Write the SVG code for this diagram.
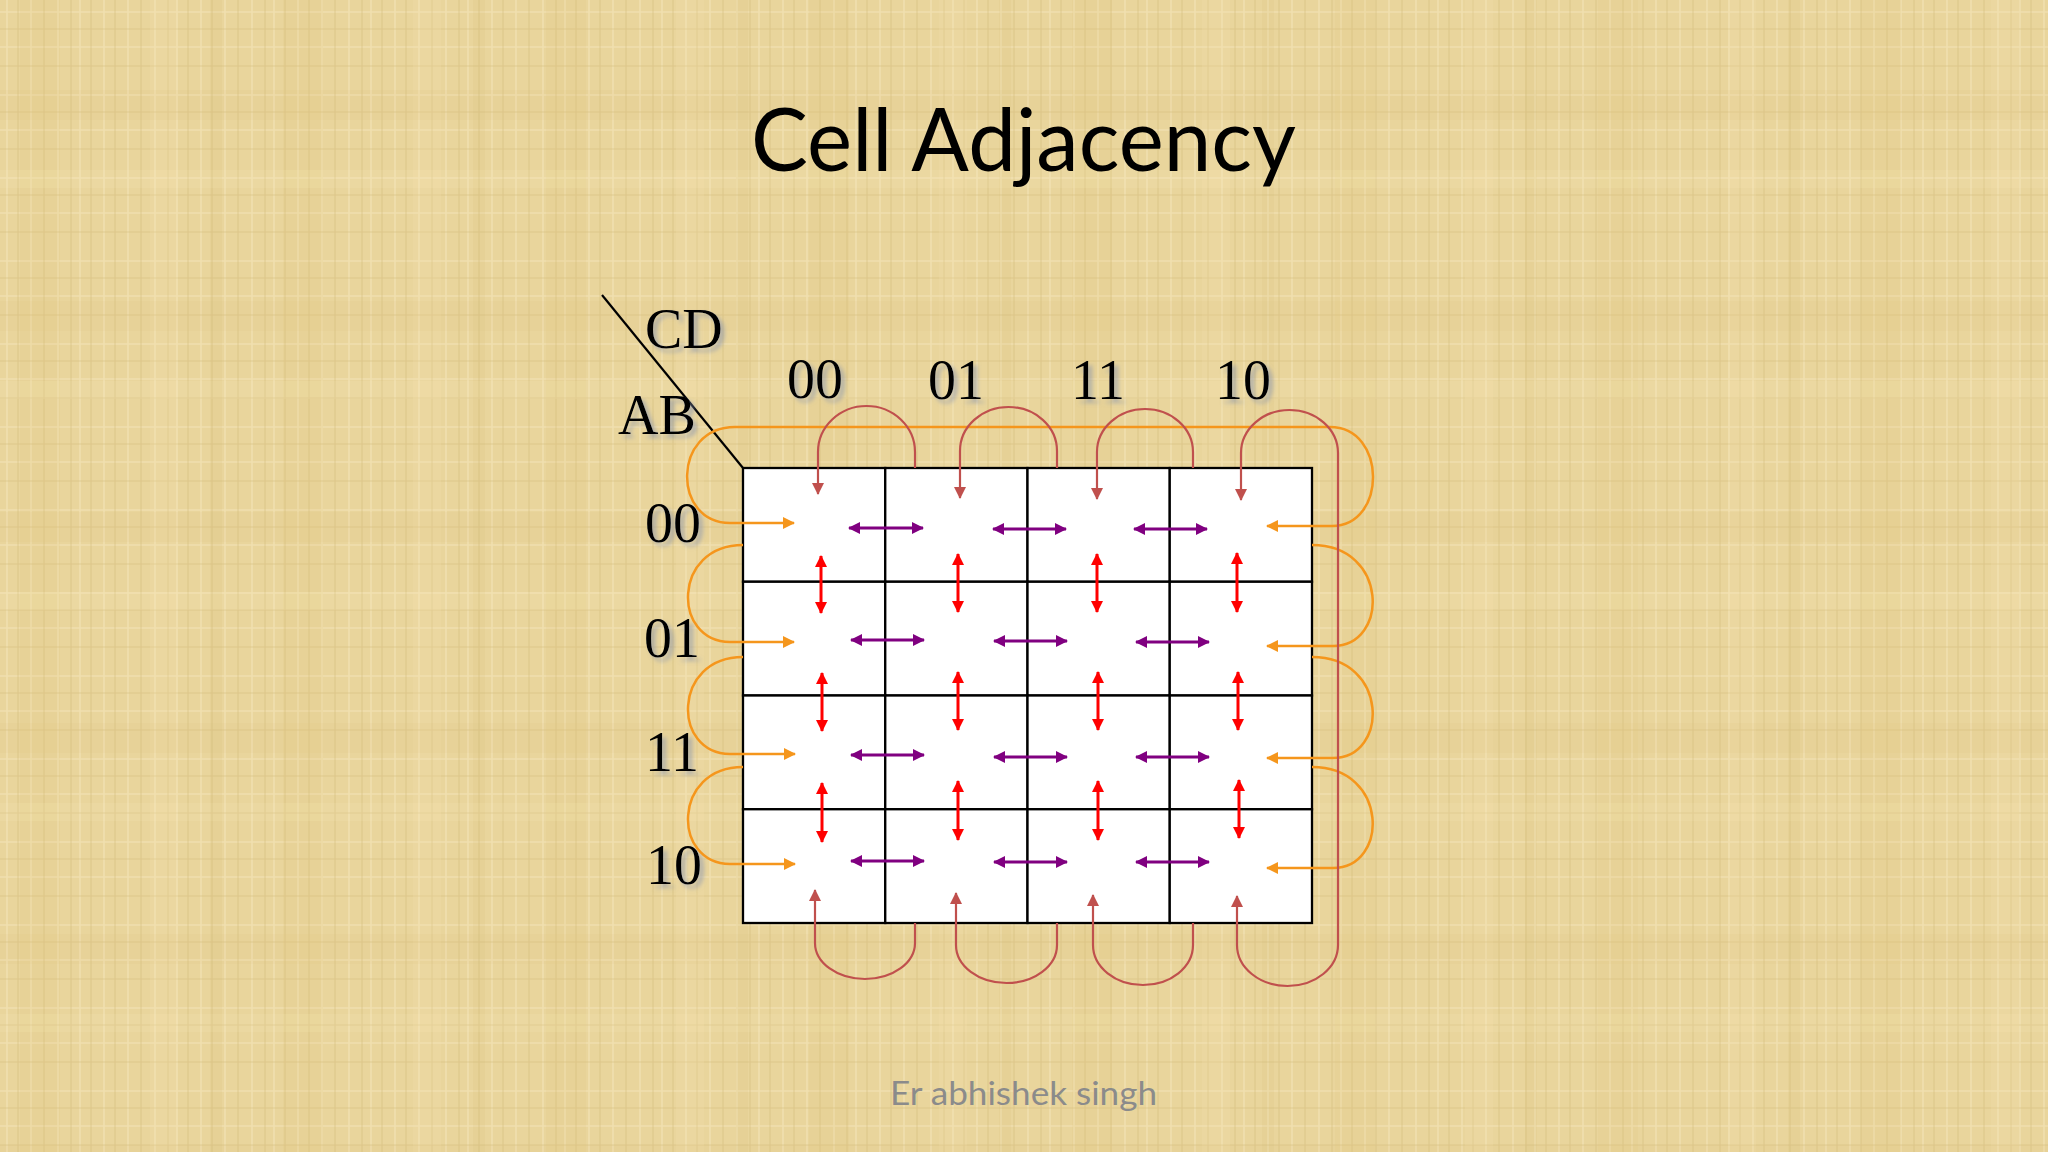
<svg xmlns="http://www.w3.org/2000/svg" width="2048" height="1152" viewBox="0 0 2048 1152">
<defs>
<style>
.serif{font-family:"Liberation Serif","Times New Roman",serif;fill:#000;font-size:56px;}
.lbl{filter:url(#sh);}
.cell{fill:#fff;stroke:#000;stroke-width:2.3;}
.or{fill:none;stroke:#f5961c;stroke-width:2.5;}
.br{fill:none;stroke:#c0504d;stroke-width:2.2;}
.pu{fill:none;stroke:#800080;stroke-width:3;}
.rd{fill:none;stroke:#ff0000;stroke-width:3;}
</style>
<filter id="sh" x="-20%" y="-20%" width="150%" height="150%">
<feDropShadow dx="4" dy="4" stdDeviation="2" flood-color="#7f8fb0" flood-opacity="0.55"/>
</filter>
<pattern id="tex1" patternUnits="userSpaceOnUse" width="97" height="83">
<rect width="97" height="83" fill="#e9d59c"/>
<g stroke="#f4e6bb" stroke-width="1.6" opacity="0.6">
<line x1="7" y1="0" x2="7" y2="83"/><line x1="31" y1="0" x2="31" y2="83"/><line x1="58" y1="0" x2="58" y2="83"/><line x1="80" y1="0" x2="80" y2="83"/>
<line x1="0" y1="12" x2="97" y2="12"/><line x1="0" y1="47" x2="97" y2="47"/>
</g>
<g stroke="#d0b878" stroke-width="1.1" opacity="0.5">
<line x1="18" y1="0" x2="18" y2="83"/><line x1="44" y1="0" x2="44" y2="83"/><line x1="71" y1="0" x2="71" y2="83"/><line x1="91" y1="0" x2="91" y2="83"/>
<line x1="0" y1="29" x2="97" y2="29"/><line x1="0" y1="66" x2="97" y2="66"/>
</g>
</pattern>
<pattern id="tex2" patternUnits="userSpaceOnUse" width="263" height="211">
<rect x="20" y="0" width="40" height="211" fill="#dcc27a" opacity="0.15"/>
<rect x="150" y="0" width="28" height="211" fill="#f3e3b0" opacity="0.2"/>
<rect x="0" y="90" width="263" height="30" fill="#d9bf78" opacity="0.1"/>
<rect x="0" y="170" width="263" height="18" fill="#f5e8bd" opacity="0.15"/>
<rect x="210" y="0" width="12" height="211" fill="#d2b76f" opacity="0.12"/>
</pattern>
<marker id="mo" markerUnits="userSpaceOnUse" markerWidth="14" markerHeight="14" refX="11" refY="6" orient="auto-start-reverse"><path d="M0,0 L12,6 L0,12 Z" fill="#f5961c"/></marker>
<marker id="mb" markerUnits="userSpaceOnUse" markerWidth="14" markerHeight="14" refX="11" refY="6" orient="auto-start-reverse"><path d="M0,0 L12,6 L0,12 Z" fill="#c0504d"/></marker>
<marker id="mp" markerUnits="userSpaceOnUse" markerWidth="14" markerHeight="14" refX="11" refY="6" orient="auto-start-reverse"><path d="M0,0 L12,6 L0,12 Z" fill="#800080"/></marker>
<marker id="mr" markerUnits="userSpaceOnUse" markerWidth="14" markerHeight="14" refX="11" refY="6" orient="auto-start-reverse"><path d="M0,0 L12,6 L0,12 Z" fill="#ff0000"/></marker>
</defs>

<rect width="2048" height="1152" fill="url(#tex1)"/>
<rect width="2048" height="1152" fill="url(#tex2)"/>

<text x="751" y="171" font-family="Lato,'Open Sans',sans-serif" font-size="88" fill="#000" textLength="545" lengthAdjust="spacingAndGlyphs">Cell Adjacency</text>

<g id="kmap-cells">
<g id="cell-0-0"><rect class="cell" x="743" y="468" width="142.25" height="113.75"/></g>
<g id="cell-0-1"><rect class="cell" x="885.25" y="468" width="142.25" height="113.75"/></g>
<g id="cell-0-2"><rect class="cell" x="1027.5" y="468" width="142.25" height="113.75"/></g>
<g id="cell-0-3"><rect class="cell" x="1169.75" y="468" width="142.25" height="113.75"/></g>
<g id="cell-1-0"><rect class="cell" x="743" y="581.75" width="142.25" height="113.75"/></g>
<g id="cell-1-1"><rect class="cell" x="885.25" y="581.75" width="142.25" height="113.75"/></g>
<g id="cell-1-2"><rect class="cell" x="1027.5" y="581.75" width="142.25" height="113.75"/></g>
<g id="cell-1-3"><rect class="cell" x="1169.75" y="581.75" width="142.25" height="113.75"/></g>
<g id="cell-2-0"><rect class="cell" x="743" y="695.5" width="142.25" height="113.75"/></g>
<g id="cell-2-1"><rect class="cell" x="885.25" y="695.5" width="142.25" height="113.75"/></g>
<g id="cell-2-2"><rect class="cell" x="1027.5" y="695.5" width="142.25" height="113.75"/></g>
<g id="cell-2-3"><rect class="cell" x="1169.75" y="695.5" width="142.25" height="113.75"/></g>
<g id="cell-3-0"><rect class="cell" x="743" y="809.25" width="142.25" height="113.75"/></g>
<g id="cell-3-1"><rect class="cell" x="885.25" y="809.25" width="142.25" height="113.75"/></g>
<g id="cell-3-2"><rect class="cell" x="1027.5" y="809.25" width="142.25" height="113.75"/></g>
<g id="cell-3-3"><rect class="cell" x="1169.75" y="809.25" width="142.25" height="113.75"/></g>
</g>

<g id="corner-label">
<line x1="602" y1="295" x2="743" y2="468" stroke="#000" stroke-width="2.2"/>
<text class="serif lbl" x="645" y="348" font-size="57">CD</text>
<text class="serif lbl" x="618" y="434" font-size="57">AB</text>
</g>

<g id="col-labels" text-anchor="middle">
<text class="serif lbl" x="815" y="398">00</text>
<text class="serif lbl" x="956" y="399">01</text>
<text class="serif lbl" x="1098" y="399">11</text>
<text class="serif lbl" x="1243" y="399">10</text>
</g>
<g id="row-labels" text-anchor="middle">
<text class="serif lbl" x="673" y="542">00</text>
<text class="serif lbl" x="672" y="657">01</text>
<text class="serif lbl" x="672" y="771">11</text>
<text class="serif lbl" x="674" y="884">10</text>
</g>

<g id="connectors">
<path class="or" marker-start="url(#mo)" marker-end="url(#mo)" d="M 794,523 L 730,523 C 672,523 672,427 735,427 L 1330,427 C 1387,427 1387,526 1332,526 L 1267,526"/>
<path class="or" marker-end="url(#mo)" d="M 743,545 C 672,545 672,642 730,642 L 794,642"/>
<path class="or" marker-end="url(#mo)" d="M 743,657 C 672,657 672,754 730,754 L 795,754"/>
<path class="or" marker-end="url(#mo)" d="M 743,767 C 672,767 672,864 730,864 L 795,864"/>
<path class="or" marker-end="url(#mo)" d="M 1312,545 C 1389,545 1389,646 1333,646 L 1267,646"/>
<path class="or" marker-end="url(#mo)" d="M 1312,657 C 1389,657 1389,758 1333,758 L 1267,758"/>
<path class="or" marker-end="url(#mo)" d="M 1312,767 C 1389,767 1389,868 1333,868 L 1267,868"/>

<path class="br" marker-end="url(#mb)" d="M 915,468 L 915,452 A 48.5 46 0 0 0 818,452 L 818,494"/>
<path class="br" marker-end="url(#mb)" d="M 1057,468 L 1057,451 A 48.5 44 0 0 0 960,451 L 960,498"/>
<path class="br" marker-end="url(#mb)" d="M 1193,468 L 1193,452 A 48 43 0 0 0 1097,452 L 1097,499"/>
<path class="br" marker-start="url(#mb)" marker-end="url(#mb)" d="M 1241,500 L 1241,453 A 48.5 43 0 0 1 1338,453 L 1338,945 A 50.5 41 0 0 1 1237,945 L 1237,896"/>
<path class="br" marker-end="url(#mb)" d="M 915,923 L 915,943 A 50 36 0 0 1 815,943 L 815,890"/>
<path class="br" marker-end="url(#mb)" d="M 1057,923 L 1057,945 A 50.5 38 0 0 1 956,945 L 956,893"/>
<path class="br" marker-end="url(#mb)" d="M 1193,923 L 1193,945 A 50 40 0 0 1 1093,945 L 1093,895"/>

<g marker-start="url(#mp)" marker-end="url(#mp)">
<line class="pu" x1="849" y1="528" x2="923" y2="528"/>
<line class="pu" x1="993" y1="529" x2="1066" y2="529"/>
<line class="pu" x1="1134" y1="529" x2="1207" y2="529"/>
<line class="pu" x1="851" y1="640" x2="924" y2="640"/>
<line class="pu" x1="994" y1="641" x2="1067" y2="641"/>
<line class="pu" x1="1136" y1="642" x2="1209" y2="642"/>
<line class="pu" x1="851" y1="755" x2="924" y2="755"/>
<line class="pu" x1="994" y1="757" x2="1067" y2="757"/>
<line class="pu" x1="1136" y1="757" x2="1209" y2="757"/>
<line class="pu" x1="851" y1="861" x2="924" y2="861"/>
<line class="pu" x1="994" y1="862" x2="1067" y2="862"/>
<line class="pu" x1="1136" y1="862" x2="1209" y2="862"/>
</g>

<g marker-start="url(#mr)" marker-end="url(#mr)">
<line class="rd" x1="821" y1="556" x2="821" y2="613"/>
<line class="rd" x1="958" y1="554" x2="958" y2="612"/>
<line class="rd" x1="1097" y1="554" x2="1097" y2="612"/>
<line class="rd" x1="1237" y1="553" x2="1237" y2="612"/>
<line class="rd" x1="822" y1="673" x2="822" y2="731"/>
<line class="rd" x1="958" y1="672" x2="958" y2="730"/>
<line class="rd" x1="1098" y1="672" x2="1098" y2="730"/>
<line class="rd" x1="1238" y1="672" x2="1238" y2="730"/>
<line class="rd" x1="822" y1="783" x2="822" y2="842"/>
<line class="rd" x1="958" y1="781" x2="958" y2="840"/>
<line class="rd" x1="1098" y1="781" x2="1098" y2="840"/>
<line class="rd" x1="1239" y1="780" x2="1239" y2="838"/>
</g>
</g>

<text x="890" y="1105" font-family="Lato,'Open Sans',sans-serif" font-size="33" fill="#8b8b8b" textLength="267" lengthAdjust="spacingAndGlyphs">Er abhishek singh</text>
</svg>
